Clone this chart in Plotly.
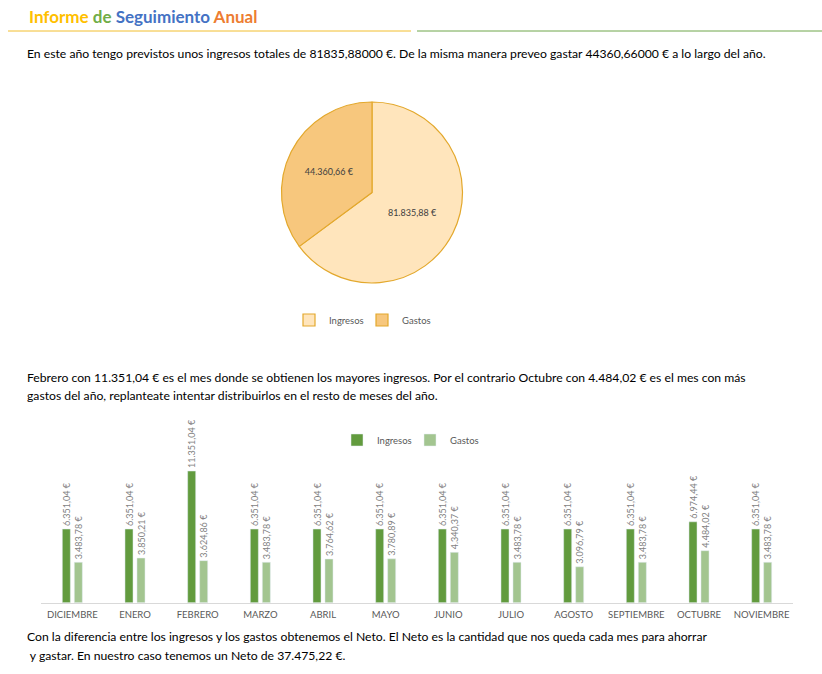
import plotly.graph_objects as go

# ---------------- data ----------------
pie_labels = ["Ingresos", "Gastos"]
pie_values = [81835.88, 44360.66]

months = ["DICIEMBRE", "ENERO", "FEBRERO", "MARZO", "ABRIL", "MAYO",
          "JUNIO", "JULIO", "AGOSTO", "SEPTIEMBRE", "OCTUBRE", "NOVIEMBRE"]
ingresos = [6351.04, 6351.04, 11351.04, 6351.04, 6351.04, 6351.04,
            6351.04, 6351.04, 6351.04, 6351.04, 6974.44, 6351.04]
gastos = [3483.78, 3850.21, 3624.86, 3483.78, 3764.62, 3780.89,
          4340.37, 3483.78, 3096.79, 3483.78, 4484.02, 3483.78]

W, H = 822, 674
FONT = "Lato, 'Open Sans', sans-serif"

def px_x(x):
    return x / W

def px_y(y):
    return 1 - y / H

fig = go.Figure()

# ---------------- pie ----------------
fig.add_trace(go.Pie(
    labels=pie_labels, values=pie_values,
    sort=False, direction="clockwise", rotation=0,
    marker=dict(colors=["#FFE5BC", "#F7C77D"], line=dict(color="#E3A82C", width=1.2)),
    texttemplate="%{value:,.2f} €", textposition="inside", insidetextorientation="horizontal",
    textfont=dict(size=9, color="#404040", family=FONT),
    domain=dict(x=[px_x(372 - 90.5), px_x(372 + 90.5)], y=[px_y(192.5 + 90.5), px_y(192.5 - 90.5)]),
    legend="legend", hoverinfo="label+value",
))

# ---------------- bars ----------------
for name, vals, col in [("Ingresos", ingresos, "#629B3E"), ("Gastos", gastos, "#A3C590")]:
    fig.add_trace(go.Bar(
        x=months, y=vals, name=name, marker_color=col,
        texttemplate="%{y:,.2f} €", textposition="outside", textangle=-90,
        constraintext="none",
        textfont=dict(size=9, color="#7F7F7F", family=FONT), cliponaxis=False,
        legend="legend2",
    ))

texts = [
    (27, 16, "<b><span style='color:#FFC000'>Informe</span> <span style='color:#70AD47'>de</span> "
             "<span style='color:#4472C4'>Seguimiento</span> <span style='color:#ED7D31'>Anual</span></b>", 17),
    (25, 54, "En este año tengo previstos unos ingresos totales de 81835,88000 €. De la misma manera preveo gastar 44360,66000 € a lo largo del año.", 12.2),
    (25, 377, "Febrero con 11.351,04 € es el mes donde se obtienen los mayores ingresos. Por el contrario Octubre con 4.484,02 € es el mes con más", 12.2),
    (25, 395, "gastos del año, replanteate intentar distribuirlos en el resto de meses del año.", 12.2),
    (25, 636, "Con la diferencia entre los ingresos y los gastos obtenemos el Neto. El Neto es la cantidad que nos queda cada mes para ahorrar", 12.2),
    (25, 655, " y gastar. En nuestro caso tenemos un Neto de 37.475,22 €.", 12.2),
]
annotations = []
for x, y, t, s in texts:
    annotations.append(dict(
        x=px_x(x), y=px_y(y), xref="paper", yref="paper", xanchor="left", yanchor="middle",
        text=t, showarrow=False, font=dict(size=s, color="#000000", family=FONT),
    ))

shapes = [
    dict(type="line", xref="paper", yref="paper", x0=px_x(8), x1=px_x(411), y0=px_y(31), y1=px_y(31),
         line=dict(color="#F2BE2E", width=1)),
    dict(type="line", xref="paper", yref="paper", x0=px_x(417), x1=px_x(822), y0=px_y(31), y1=px_y(31),
         line=dict(color="#6FA64A", width=1)),
]

fig.update_layout(
    width=W, height=H, margin=dict(l=0, r=0, t=0, b=0),
    paper_bgcolor="white", plot_bgcolor="white",
    separators=",.",
    font=dict(family=FONT, color="#595959"),
    barmode="group", bargap=0.617, bargroupgap=0.33,
    xaxis=dict(domain=[px_x(41), px_x(793)], showgrid=False, showline=True, linecolor="#D9D9D9",
               linewidth=1, ticks="", ticklabelstandoff=3,
               tickfont=dict(size=9.5, color="#595959", family=FONT),
               fixedrange=True),
    yaxis=dict(domain=[px_y(602.7), px_y(420)], range=[0, (602.7 - 420) / 0.0116],
               showgrid=False, showticklabels=False, zeroline=False, showline=False, fixedrange=True),
    legend=dict(orientation="h", x=px_x(362), xanchor="center", y=px_y(320), yanchor="middle",
                font=dict(size=9.5, color="#595959", family=FONT), itemwidth=30, entrywidth=28,
                bgcolor="rgba(0,0,0,0)"),
    legend2=dict(orientation="h", x=px_x(410), xanchor="center", y=px_y(440), yanchor="middle",
                 font=dict(size=9.5, color="#595959", family=FONT), itemwidth=30, entrywidth=28,
                 bgcolor="rgba(0,0,0,0)"),
    annotations=annotations, shapes=shapes,
)

fig.write_html("out.html", config={"displayModeBar": False},
               post_script="document.body.style.margin='0';")
